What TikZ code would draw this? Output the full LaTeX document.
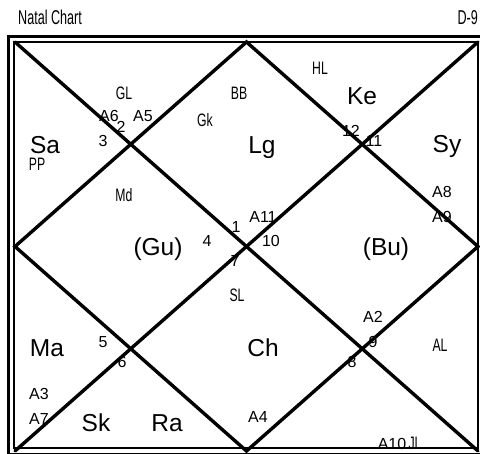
\documentclass[tikz,border=0pt]{standalone}
\usepackage{fontspec}
\usepackage{graphicx}
\setmainfont{Liberation Sans}
\newcommand{\nrw}[1]{\scalebox{0.68}[1]{#1}}
\newcommand{\ttl}[1]{\scalebox{0.63}[1]{#1}}
\tikzset{
  big/.style={font=\fontsize{24.5}{24.5}\selectfont, inner sep=0pt, anchor=base},
  sml/.style={font=\fontsize{16}{16}\selectfont, inner sep=0pt, anchor=base},
  nar/.style={font=\fontsize{18}{18}\selectfont, inner sep=0pt, anchor=base},
  ttlstyle/.style={font=\fontsize{20}{20}\selectfont, inner sep=0pt},
  frameout/.style={line width=3.5pt},
  framein/.style={line width=2pt},
  chartline/.style={line width=3.4pt, line cap=round},
}
\begin{document}
\begin{tikzpicture}[x=1pt,y=-1pt]
\useasboundingbox (0,0) rectangle (480,454);
\clip (0,0) rectangle (480,454);
\fill[white] (0,0) rectangle (480,454);
% titles
\node[ttlstyle, anchor=base west] (title) at (18,25) {\ttl{Natal Chart}};
\node[ttlstyle, anchor=base east] (dnine) at (478,25) {\ttl{D-9}};
% big labels
\node[big] (sa) at (45,153.5) {Sa};
\node[big] (lg) at (262,154) {Lg};
\node[big] (ke) at (362,105) {Ke};
\node[big] (sy) at (447,153) {Sy};
\node[big] (gu) at (158,256) {(Gu)};
\node[big] (bu) at (386,256) {(Bu)};
\node[big] (ma) at (47,357) {Ma};
\node[big] (ch) at (263,357) {Ch};
\node[big] (sk) at (96,432) {Sk};
\node[big] (ra) at (167,432) {Ra};
% small labels
\node[sml] (a6) at (109,122) {A6};
\node[sml] (a5) at (143,122) {A5};
\node[sml] (n2) at (121,133) {2};
\node[sml] (n3) at (103,147) {3};
\node[sml] (a11) at (263,223) {A11};
\node[sml] (n1) at (236,233) {1};
\node[sml] (n4) at (207,247) {4};
\node[sml] (n10) at (271,247) {10};
\node[sml] (n7) at (235,267) {7};
\node[sml] (n12) at (351,137) {12};
\node[sml] (n11) at (374,147) {11};
\node[sml] (a8) at (442,198) {A8};
\node[sml] (a9) at (442,223) {A9};
\node[sml] (n5) at (103,348) {5};
\node[sml] (n6) at (122,368) {6};
\node[sml] (a3) at (39,400) {A3};
\node[sml] (a7) at (39,425) {A7};
\node[sml] (a2) at (373,323) {A2};
\node[sml] (n9) at (373,348) {9};
\node[sml] (n8) at (352,368) {8};
\node[sml] (a4) at (258,423) {A4};
\node[sml] (a10) at (392,450) {A10};
% narrow labels
\node[nar] (gl) at (124,100) {\nrw{GL}};
\node[nar] (bb) at (239,100) {\nrw{BB}};
\node[nar] (gk) at (205,127) {\nrw{Gk}};
\node[nar] (hl) at (320,75) {\nrw{HL}};
\node[nar] (pp) at (37,171) {\nrw{PP}};
\node[nar] (md) at (124,202) {\nrw{Md}};
\node[nar] (sl) at (237,302) {\nrw{SL}};
\node[nar] (al) at (440,352) {\nrw{AL}};
\node[nar] (jl) at (415,450) {\nrw{JL}};
% frames
\draw[frameout] (8.5,36.5) rectangle (484,454.5);
\draw[framein] (14,42) rectangle (477.5,448);
% chart lines
\coordinate (tl) at (15,42);
\coordinate (tr) at (478,42);
\coordinate (bl) at (15,451);
\coordinate (br) at (478,451);
\coordinate (tm) at (246.5,42);
\coordinate (rm) at (478,246.5);
\coordinate (bm) at (246.5,451);
\coordinate (lm) at (15,246.5);
\draw[chartline] (tl) -- (br);
\draw[chartline] (tr) -- (bl);
\draw[chartline] (tm) -- (rm) -- (bm) -- (lm) -- cycle;
\end{tikzpicture}
\end{document}
